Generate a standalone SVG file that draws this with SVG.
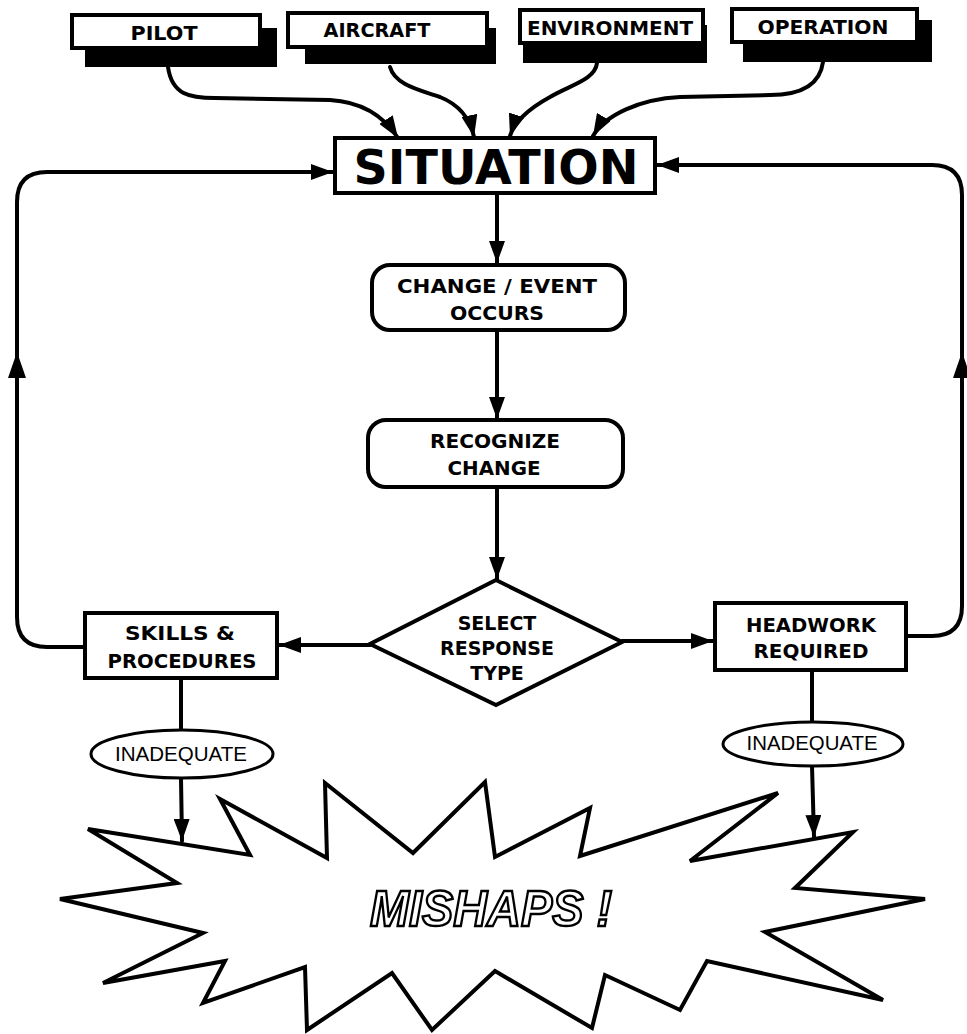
<svg xmlns="http://www.w3.org/2000/svg" width="967" height="1034" viewBox="0 0 967 1034">
<style>
.box{fill:#fff;stroke:#000;stroke-width:4}
.shadow{fill:#000}
.line{fill:none;stroke:#000;stroke-width:4;stroke-linecap:round;stroke-linejoin:round}
.t{font-family:"DejaVu Sans","Liberation Sans",sans-serif;font-weight:bold;fill:#000;text-anchor:middle}
.r{font-family:"Liberation Sans","DejaVu Sans",sans-serif;fill:#000;text-anchor:middle}
</style>
<defs>
<marker id="ah" viewBox="0 0 22 16" refX="22" refY="8" markerWidth="22" markerHeight="16" markerUnits="userSpaceOnUse" orient="auto">
<path d="M0,0 L22,8 L0,16 Z" fill="#000"/>
</marker>
</defs>
<rect width="967" height="1034" fill="#fff"/>

<g id="connectors">
<path class="line" d="M168,67 C172,95 190,98 215,98 L330,100 C365,102 385,118 398,138" marker-end="url(#ah)"/>
<path class="line" d="M390,67 C395,85 420,90 440,97 C460,105 470,118 474,137" marker-end="url(#ah)"/>
<path class="line" d="M597,63 C595,80 570,85 550,97 C530,108 515,120 510,136" marker-end="url(#ah)"/>
<path class="line" d="M823,62 C820,85 800,95 770,95 L680,97 C640,99 605,115 593,136" marker-end="url(#ah)"/>
<path class="line" d="M85,647 L47,647 Q17,647 17,617 L17,202 Q17,172 47,172 L333,172" marker-end="url(#ah)"/>
<path class="line" d="M906,636 L932,636 Q962,636 962,606 L962,195 Q962,165 932,165 L657,165" marker-end="url(#ah)"/>
<path d="M17,352 L8,378 L26,378 Z" fill="#000"/>
<path d="M962,352 L953,378 L971,378 Z" fill="#000"/>
<path class="line" d="M497,193 L497,263" marker-end="url(#ah)"/>
<path class="line" d="M497,330 L497,419" marker-end="url(#ah)"/>
<path class="line" d="M497,487 L497,579" marker-end="url(#ah)"/>
<path class="line" d="M370,645 L279,645" marker-end="url(#ah)"/>
<path class="line" d="M622,641 L713,641" marker-end="url(#ah)"/>
<path class="line" d="M181,678 L181,730"/>
<path class="line" d="M181,778 L182,841" marker-end="url(#ah)"/>
<path class="line" d="M812,670 L812,722"/>
<path class="line" d="M812,766 L814,837" marker-end="url(#ah)"/>
</g>

<g id="pilot">
<rect class="shadow" x="85" y="28" width="192" height="39"/>
<rect class="box" x="72" y="15" width="188" height="33"/>
<text class="t" x="164" y="40" font-size="19" textLength="67" lengthAdjust="spacingAndGlyphs">PILOT</text>
</g>
<g id="aircraft">
<rect class="shadow" x="305" y="28" width="191" height="36"/>
<rect class="box" x="288" y="13" width="199" height="34"/>
<text class="t" x="377" y="37" font-size="19" textLength="107" lengthAdjust="spacingAndGlyphs">AIRCRAFT</text>
</g>
<g id="environment">
<rect class="shadow" x="523" y="25" width="184" height="38"/>
<rect class="box" x="520" y="10" width="183" height="33"/>
<text class="t" x="610" y="35" font-size="19" textLength="166" lengthAdjust="spacingAndGlyphs">ENVIRONMENT</text>
</g>
<g id="operation">
<rect class="shadow" x="743" y="20" width="189" height="42"/>
<rect class="box" x="732" y="9" width="185" height="33"/>
<text class="t" x="823" y="34" font-size="19" textLength="131" lengthAdjust="spacingAndGlyphs">OPERATION</text>
</g>

<g id="situation">
<rect class="box" x="335" y="138" width="320" height="55"/>
<text class="t" x="496" y="184" font-size="48" textLength="285" lengthAdjust="spacingAndGlyphs" font-family="Liberation Sans, sans-serif">SITUATION</text>
</g>

<g id="change">
<rect class="box" x="372" y="265" width="253" height="65" rx="18"/>
<text class="t" x="497" y="293" font-size="20" textLength="200" lengthAdjust="spacingAndGlyphs">CHANGE / EVENT</text>
<text class="t" x="497" y="320" font-size="20" textLength="94" lengthAdjust="spacingAndGlyphs">OCCURS</text>
</g>

<g id="recognize">
<rect class="box" x="368" y="420" width="255" height="67" rx="18"/>
<text class="t" x="495" y="448" font-size="20" textLength="130" lengthAdjust="spacingAndGlyphs">RECOGNIZE</text>
<text class="t" x="494" y="475" font-size="20" textLength="93" lengthAdjust="spacingAndGlyphs">CHANGE</text>
</g>

<g id="select">
<path class="box" d="M496,580 L622,642 L496,705 L370,644 Z"/>
<text class="t" x="497" y="630" font-size="19">SELECT</text>
<text class="t" x="497" y="655" font-size="19">RESPONSE</text>
<text class="t" x="497" y="680" font-size="19">TYPE</text>
</g>

<g id="skills">
<rect class="box" x="85" y="613" width="192" height="65"/>
<text class="t" x="180" y="640" font-size="20" textLength="110" lengthAdjust="spacingAndGlyphs">SKILLS &amp;</text>
<text class="t" x="182" y="668" font-size="20" textLength="149" lengthAdjust="spacingAndGlyphs">PROCEDURES</text>
</g>

<g id="headwork">
<rect class="box" x="715" y="603" width="191" height="67"/>
<text class="t" x="811" y="632" font-size="20" textLength="130" lengthAdjust="spacingAndGlyphs">HEADWORK</text>
<text class="t" x="811" y="658" font-size="20" textLength="115" lengthAdjust="spacingAndGlyphs">REQUIRED</text>
</g>

<g id="inadequate-left">
<ellipse cx="182" cy="754" rx="91" ry="24" fill="#fff" stroke="#000" stroke-width="3"/>
<text class="r" x="181" y="761" font-size="20" textLength="132" lengthAdjust="spacingAndGlyphs">INADEQUATE</text>
</g>

<g id="inadequate-right">
<ellipse cx="813" cy="744" rx="90" ry="22" fill="#fff" stroke="#000" stroke-width="3"/>
<text class="r" x="812" y="750" font-size="20" textLength="131" lengthAdjust="spacingAndGlyphs">INADEQUATE</text>
</g>

<g id="mishaps">
<path fill="#fff" stroke="#000" stroke-width="4" stroke-linejoin="miter" d="M88,829 L250,855 L220,799 L327,858 L325,783 L413,853 L485,782 L495,857 L590,808 L580,856 L778,793 L690,861 L853,832 L795,888 L925,899 L765,932 L883,1000 L707,961 L680,1010 L605,975 L592,1028 L495,971 L432,1030 L392,973 L307,1030 L305,967 L203,1003 L225,961 L103,983 L203,933 L60,899 L177,883 Z"/>
<text x="491" y="926" font-family="Liberation Sans, sans-serif" font-weight="bold" font-style="italic" font-size="50" fill="#fff" stroke="#000" stroke-width="2.5" text-anchor="middle" textLength="242" lengthAdjust="spacingAndGlyphs">MISHAPS !</text>
</g>
</svg>
